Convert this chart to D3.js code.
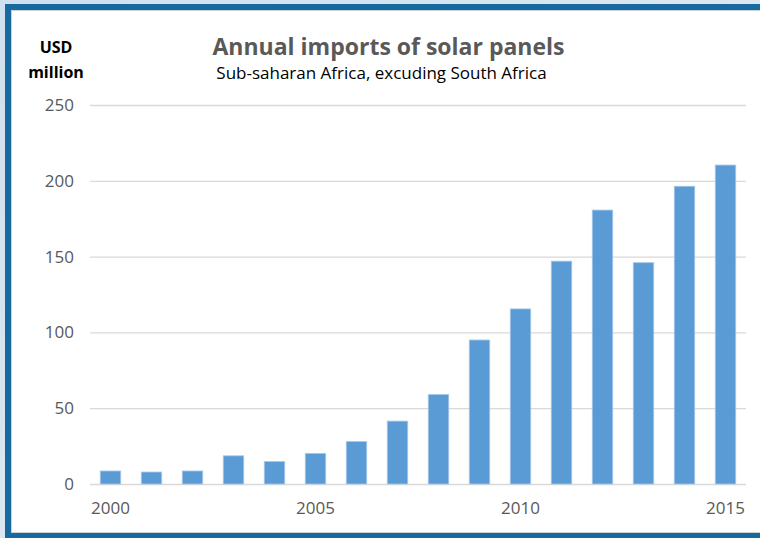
<!DOCTYPE html>
<html>
<head>
<meta charset="utf-8">
<script src="https://cdn.jsdelivr.net/npm/d3@7"></script>
<style>
  html, body { margin: 0; padding: 0; background: #dce8f2; }
  svg { display: block; }
  text { font-family: "Open Sans", "Noto Sans", sans-serif; }
</style>
</head>
<body>
<script>
// Annual imports of solar panels, USD million
const years = ["2000","2001","2002","2003","2004","2005","2006","2007",
               "2008","2009","2010","2011","2012","2013","2014","2015"];
const imports = [8.6, 7.9, 8.6, 18.6, 14.9, 20.2, 28, 41.5,
                 59, 95, 115.5, 147, 180.7, 146, 196.4, 210.4];
const yTicks = [0, 50, 100, 150, 200, 250];
const xTickLabels = ["2000", "2005", "2010", "2015"];

const W = 760, H = 538;
const svg = d3.select("body").append("svg").attr("width", W).attr("height", H);

// page backdrop with a soft blue wash
const defs = svg.append("defs");
const bg = defs.append("linearGradient").attr("id", "bg")
  .attr("x1", 0).attr("y1", 0).attr("x2", 1).attr("y2", 1);
bg.append("stop").attr("offset", 0).attr("stop-color", "#cfe0ee");
bg.append("stop").attr("offset", 1).attr("stop-color", "#e6eef5");
svg.append("rect").attr("width", W).attr("height", H).attr("fill", "url(#bg)");

// framed white panel
svg.append("rect").attr("x", 8).attr("y", 7).attr("width", W + 20).attr("height", 529)
  .attr("fill", "#ffffff").attr("stroke", "#17699e").attr("stroke-width", 6);
svg.append("rect").attr("x", 11.5).attr("y", 10.5).attr("width", W + 20).attr("height", 522)
  .attr("fill", "none").attr("stroke", "#c9d3dc").attr("stroke-width", 1);

const x = d3.scaleBand().domain(years).range([90, 746]).paddingInner(0.5).paddingOuter(0.25);
const y = d3.scaleLinear().domain([0, 250]).range([484, 105]);

// horizontal gridlines
const yAxis = d3.axisLeft(y).tickValues(yTicks).tickSize(-(746 - 90)).tickPadding(16);
const gy = svg.append("g").attr("transform", "translate(90,0)").call(yAxis);
gy.select(".domain").remove();
gy.selectAll(".tick line").attr("stroke", "#d9d9d9").attr("stroke-width", 1.3);
gy.selectAll(".tick text").attr("fill", "#595959").style("font-size", "17px")
  .style("font-family", "'Open Sans', sans-serif");

// bars
svg.append("g").selectAll("rect").data(imports).join("rect")
  .attr("x", (d, i) => x(years[i]))
  .attr("width", x.bandwidth())
  .attr("y", d => y(d))
  .attr("height", d => y(0) - y(d))
  .attr("fill", "#5b9bd5")
  .attr("stroke", "#a8c9ea")
  .attr("stroke-width", 0.8);

// x axis labels every five years
const xAxis = d3.axisBottom(x).tickValues(xTickLabels).tickSize(0).tickPadding(18);
const gx = svg.append("g").attr("transform", "translate(0,484)").call(xAxis);
gx.select(".domain").remove();
gx.selectAll(".tick text").attr("fill", "#595959").style("font-size", "17px")
  .style("font-family", "'Open Sans', sans-serif");

// titles
svg.append("text").attr("x", 388.5).attr("y", 55).attr("text-anchor", "middle")
  .attr("fill", "#595959").style("font-size", "23px").style("font-weight", "bold")
  .text("Annual imports of solar panels");
svg.append("text").attr("x", 381.5).attr("y", 79).attr("text-anchor", "middle")
  .attr("fill", "#000000").style("font-size", "17px")
  .text("Sub-saharan Africa, excuding South Africa");

// unit label
const unit = svg.append("text").attr("text-anchor", "middle").attr("fill", "#000000")
  .style("font-size", "16px").style("font-weight", "bold");
unit.append("tspan").attr("x", 56).attr("y", 53).text("USD");
unit.append("tspan").attr("x", 56).attr("y", 78).text("million");
</script>
</body>
</html>
